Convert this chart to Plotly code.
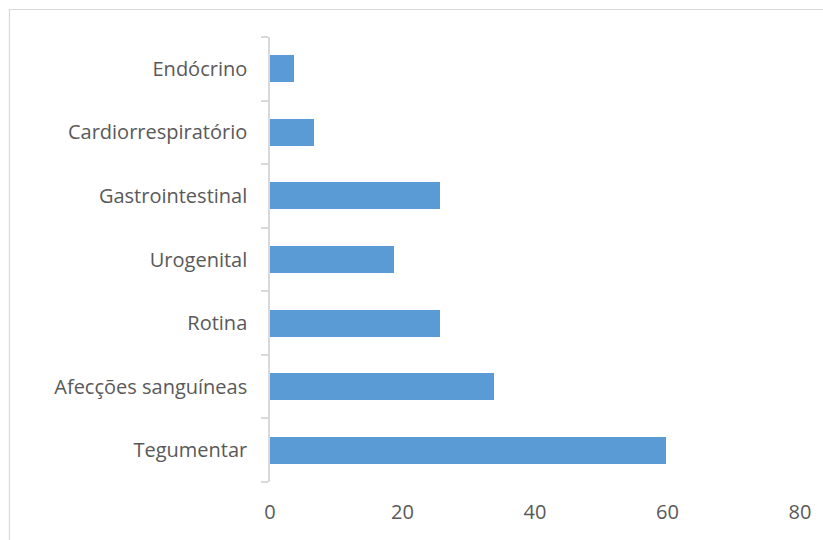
import plotly.graph_objects as go

categories = ["Tegumentar", "Afecções sanguíneas", "Rotina", "Urogenital",
              "Gastrointestinal", "Cardiorrespiratório", "Endócrino"]
values = [59.8, 33.8, 25.7, 18.7, 25.7, 6.6, 3.6]
x_ticks = [0, 20, 40, 60, 80]

fig = go.Figure(go.Bar(
    x=values, y=categories, orientation="h",
    marker=dict(color="#5b9bd5", line=dict(width=0)),
    width=0.424,
))

W, H = 823, 540
L, R, T, B = 270, 19, 37, 58
pw, ph = W - L - R, H - T - B

def px_to_paper_x(px):
    return (px - L) / pw

def px_to_paper_y(py):
    return (H - B - py) / ph

fig.update_layout(
    width=W, height=H,
    margin=dict(l=L, r=R, t=T, b=B, pad=0),
    paper_bgcolor="white", plot_bgcolor="white",
    font=dict(family="Open Sans, sans-serif", size=20, color="#595959"),
    showlegend=False,
    bargap=0,
    xaxis=dict(range=[0, 80], tickvals=x_ticks, showgrid=False, zeroline=False,
               showline=False, ticks="", ticklabelstandoff=16, fixedrange=True),
    yaxis=dict(showgrid=False, zeroline=False, showline=True, linecolor="#d9d9d9",
               linewidth=1.5, ticks="outside", tickson="boundaries", ticklen=7,
               tickcolor="#d9d9d9", tickwidth=1.5, ticklabelstandoff=17,
               categoryorder="array", categoryarray=categories),
    shapes=[dict(type="rect", xref="paper", yref="paper",
                 x0=px_to_paper_x(7.5), x1=px_to_paper_x(840),
                 y0=px_to_paper_y(560), y1=px_to_paper_y(9.5),
                 line=dict(color="#d9d9d9", width=1.2), fillcolor="rgba(0,0,0,0)",
                 layer="below")],
)

fig.write_html("out.html")
